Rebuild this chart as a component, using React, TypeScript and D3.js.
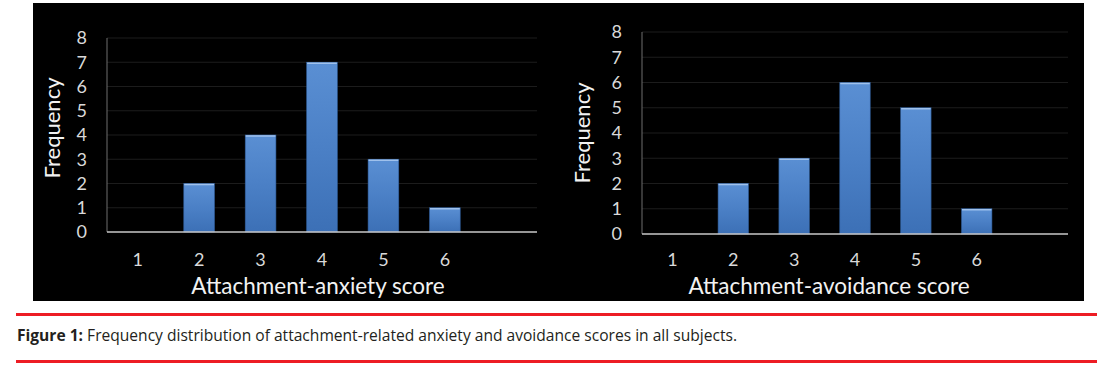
import React from 'react';
import * as d3 from 'd3';

// score categories (the chart keeps one empty slot on the right)
const scoreLabels = ['1', '2', '3', '4', '5', '6', ''];
const anxietyFrequency = [0, 2, 4, 7, 3, 1, 0];
const avoidanceFrequency = [0, 2, 3, 6, 5, 1, 0];
const frequencyTicks = [0, 1, 2, 3, 4, 5, 6, 7, 8];

const FONT = 'Lato, "Open Sans", sans-serif';

interface PanelProps {
  values: number[];
  xTitle: string;
  left: number;
  right: number;
  top: number;
  bottom: number;
  yTitleX: number;
  yTitleY: number;
  xTitleX: number;
  id: string;
}

const Panel: React.FC<PanelProps> = ({ values, xTitle, left, right, top, bottom, yTitleX, yTitleY, xTitleX, id }) => {
  const x = d3.scaleBand<string>()
    .domain(scoreLabels.map((_, i) => String(i)))
    .range([left, right])
    .paddingInner(0.5)
    .paddingOuter(0.25);

  const y = d3.scaleLinear().domain([0, 8]).range([bottom, top]);

  return (
    <g>
      <defs>
        <linearGradient id={id} x1="0" y1="0" x2="0" y2="1">
          <stop offset="0%" stopColor="#5a8fd3" />
          <stop offset="50%" stopColor="#4b80c6" />
          <stop offset="100%" stopColor="#3c70b6" />
        </linearGradient>
      </defs>

      {/* gridlines */}
      {frequencyTicks.filter(t => t > 0).map(t => (
        <line key={t} x1={left} x2={right} y1={y(t)} y2={y(t)} stroke="#1c1c1c" strokeWidth={1} />
      ))}

      {/* y axis */}
      <line x1={left} x2={left} y1={y(8)} y2={y(0)} stroke="#6e6e6e" strokeWidth={1} />

      {/* bars */}
      {values.map((v, i) => v > 0 && (
        <g key={i}>
          <rect
            x={x(String(i))}
            y={y(v)}
            width={x.bandwidth()}
            height={y(0) - y(v)}
            fill={`url(#${id})`}
            stroke="#2f5d99"
            strokeWidth={0.6}
          />
          <line
            x1={(x(String(i)) as number) + 0.5}
            x2={(x(String(i)) as number) + x.bandwidth() - 0.5}
            y1={y(v) + 1}
            y2={y(v) + 1}
            stroke="#9fc1ec"
            strokeWidth={1.5}
          />
        </g>
      ))}

      {/* x axis */}
      <line x1={left} x2={right} y1={y(0)} y2={y(0)} stroke="#c8c8c8" strokeWidth={1.5} />

      {/* y tick labels */}
      {frequencyTicks.map(t => (
        <text key={t} x={left - 20} y={y(t)} dy="0.36em" textAnchor="end"
          fill="#d9d9d9" fontSize={18} fontFamily={FONT}>{t}</text>
      ))}

      {/* x tick labels */}
      {scoreLabels.map((s, i) => (
        <text key={i} x={(x(String(i)) as number) + x.bandwidth() / 2} y={260} dy="0.36em"
          textAnchor="middle" fill="#d9d9d9" fontSize={18} fontFamily={FONT}>{s}</text>
      ))}

      <text x={xTitleX} y={294} textAnchor="middle" fill="#f2f2f2" fontSize={22.5} fontFamily={FONT}>{xTitle}</text>
      <text transform={`translate(${yTitleX},${yTitleY}) rotate(-90)`} textAnchor="middle" dy="0.36em"
        fill="#f2f2f2" fontSize={22} fontFamily={FONT}>Frequency</text>
    </g>
  );
};

export default function App() {
  return (
    <svg width={1112} height={372} style={{ position: 'absolute', left: 0, top: 0, background: '#fff' }}>
      <rect x={33} y={3} width={1051} height={298} fill="#000" />

      <Panel id="gradA" values={anxietyFrequency} xTitle="Attachment-anxiety score"
        left={107} right={537} top={38} bottom={232}
        yTitleX={52} yTitleY={128} xTitleX={318} />

      <Panel id="gradB" values={avoidanceFrequency} xTitle="Attachment-avoidance score"
        left={642} right={1068} top={32} bottom={234}
        yTitleX={582} yTitleY={133} xTitleX={829} />

      {/* caption */}
      <rect x={16} y={313} width={1081} height={3} fill="#ed1c24" />
      <text x={17} y={341} fontSize={16.5} fontFamily='"Open Sans", sans-serif' fill="#231f20"
        textLength={720} lengthAdjust="spacingAndGlyphs">
        <tspan fontWeight="bold">Figure 1:</tspan>
        <tspan> Frequency distribution of attachment-related anxiety and avoidance scores in all subjects.</tspan>
      </text>
      <rect x={16} y={360} width={1081} height={3} fill="#ed1c24" />
    </svg>
  );
}
